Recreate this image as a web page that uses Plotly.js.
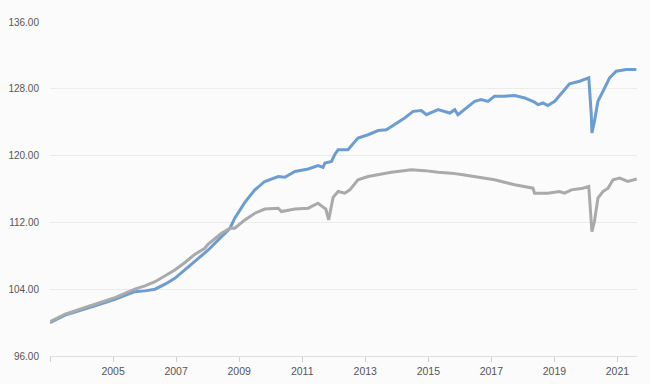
<!DOCTYPE html>
<html>
<head>
<meta charset="utf-8">
<script src="https://cdn.plot.ly/plotly-3.0.1.min.js"></script>
<style>
html,body{margin:0;padding:0;background:#fbfbfb;}
#chart{width:650px;height:384px;}
</style>
</head>
<body>
<div id="chart"></div>
<script>
// Series A (blue)
var blueX = [2003.00, 2003.48, 2004.43, 2005.06, 2005.69, 2006.01, 2006.33, 2006.65, 2006.96, 2007.28, 2007.60, 2007.91, 2008.02, 2008.44, 2008.71, 2008.86, 2009.18, 2009.50, 2009.81, 2010.24, 2010.45, 2010.77, 2011.19, 2011.50, 2011.66, 2011.72, 2011.93, 2012.03, 2012.14, 2012.45, 2012.77, 2013.09, 2013.41, 2013.67, 2013.93, 2014.25, 2014.52, 2014.78, 2014.94, 2015.31, 2015.68, 2015.84, 2015.94, 2016.15, 2016.47, 2016.68, 2016.89, 2017.10, 2017.42, 2017.74, 2018.06, 2018.37, 2018.48, 2018.64, 2018.79, 2019.01, 2019.22, 2019.48, 2019.80, 2020.09, 2020.17, 2020.19, 2020.27, 2020.38, 2020.54, 2020.75, 2020.96, 2021.28, 2021.60];
var blueY = [100.0, 100.9, 102.0, 102.8, 103.7, 103.8, 104.0, 104.6, 105.3, 106.3, 107.3, 108.3, 108.7, 110.3, 111.3, 112.5, 114.4, 115.9, 116.9, 117.5, 117.4, 118.1, 118.4, 118.8, 118.6, 119.1, 119.3, 120.1, 120.7, 120.7, 122.1, 122.5, 123.0, 123.1, 123.7, 124.5, 125.3, 125.4, 124.9, 125.5, 125.1, 125.5, 124.9, 125.5, 126.5, 126.7, 126.5, 127.1, 127.1, 127.2, 126.9, 126.4, 126.1, 126.3, 126.0, 126.5, 127.5, 128.6, 128.9, 129.3, 124.9, 122.7, 124.1, 126.5, 127.7, 129.3, 130.1, 130.3, 130.3];

// Series B (gray)
var grayX = [2003.00, 2003.48, 2004.43, 2005.06, 2005.69, 2006.01, 2006.33, 2006.65, 2006.96, 2007.28, 2007.60, 2007.91, 2008.02, 2008.44, 2008.71, 2008.86, 2009.18, 2009.50, 2009.81, 2010.24, 2010.34, 2010.77, 2011.19, 2011.50, 2011.66, 2011.75, 2011.84, 2011.98, 2012.14, 2012.35, 2012.51, 2012.77, 2013.09, 2013.41, 2013.83, 2014.46, 2014.89, 2015.31, 2015.73, 2016.10, 2016.47, 2017.10, 2017.74, 2018.32, 2018.37, 2018.79, 2019.16, 2019.32, 2019.54, 2019.90, 2020.09, 2020.19, 2020.27, 2020.38, 2020.54, 2020.70, 2020.86, 2021.07, 2021.33, 2021.61];
var grayY = [100.1, 101.0, 102.2, 103.0, 104.0, 104.4, 104.9, 105.6, 106.3, 107.2, 108.2, 108.9, 109.4, 110.7, 111.3, 111.3, 112.3, 113.1, 113.6, 113.7, 113.3, 113.6, 113.7, 114.3, 113.9, 113.6, 112.3, 115.0, 115.7, 115.5, 115.9, 117.1, 117.5, 117.7, 118.0, 118.3, 118.2, 118.0, 117.9, 117.7, 117.5, 117.1, 116.5, 116.1, 115.5, 115.5, 115.7, 115.5, 115.9, 116.1, 116.3, 110.9, 112.1, 114.9, 115.7, 116.1, 117.1, 117.3, 116.9, 117.2];

var xTickVals = [2003, 2005, 2007, 2009, 2011, 2013, 2015, 2017, 2019, 2021];
var xTickText = ['', '2005', '2007', '2009', '2011', '2013', '2015', '2017', '2019', '2021'];
var yTickVals = [96, 104, 112, 120, 128, 136];

var traces = [
  {x: blueX, y: blueY, type: 'scatter', mode: 'lines', line: {color: '#6c9dd2', width: 3}},
  {x: grayX, y: grayY, type: 'scatter', mode: 'lines', line: {color: '#a8aaab', width: 3}}
];

var layout = {
  width: 650, height: 384,
  margin: {l: 50, r: 13, t: 22, b: 28},
  paper_bgcolor: '#fbfbfb',
  plot_bgcolor: '#fbfbfb',
  showlegend: false,
  hovermode: false,
  font: {family: 'Liberation Sans, Arial, sans-serif', size: 10, color: '#555'},
  xaxis: {
    range: [2003, 2021.62],
    tickvals: xTickVals, ticktext: xTickText,
    showgrid: false, zeroline: false,
    showline: true, linecolor: '#e0e0e0', linewidth: 1,
    ticks: 'outside', ticklen: 5, tickcolor: '#d0d0d0', tickwidth: 1,
    tickfont: {size: 10.5, color: '#555'}
  },
  yaxis: {
    range: [96, 136],
    tickvals: yTickVals, tickformat: '.2f',
    showgrid: true, gridcolor: '#ebebeb', gridwidth: 1,
    zeroline: false, showline: false,
    ticks: 'outside', ticklen: 8, tickcolor: 'rgba(0,0,0,0)',
    tickfont: {size: 10, color: '#555'}
  }
};

Plotly.newPlot('chart', traces, layout, {staticPlot: true, displayModeBar: false});
</script>
</body>
</html>
